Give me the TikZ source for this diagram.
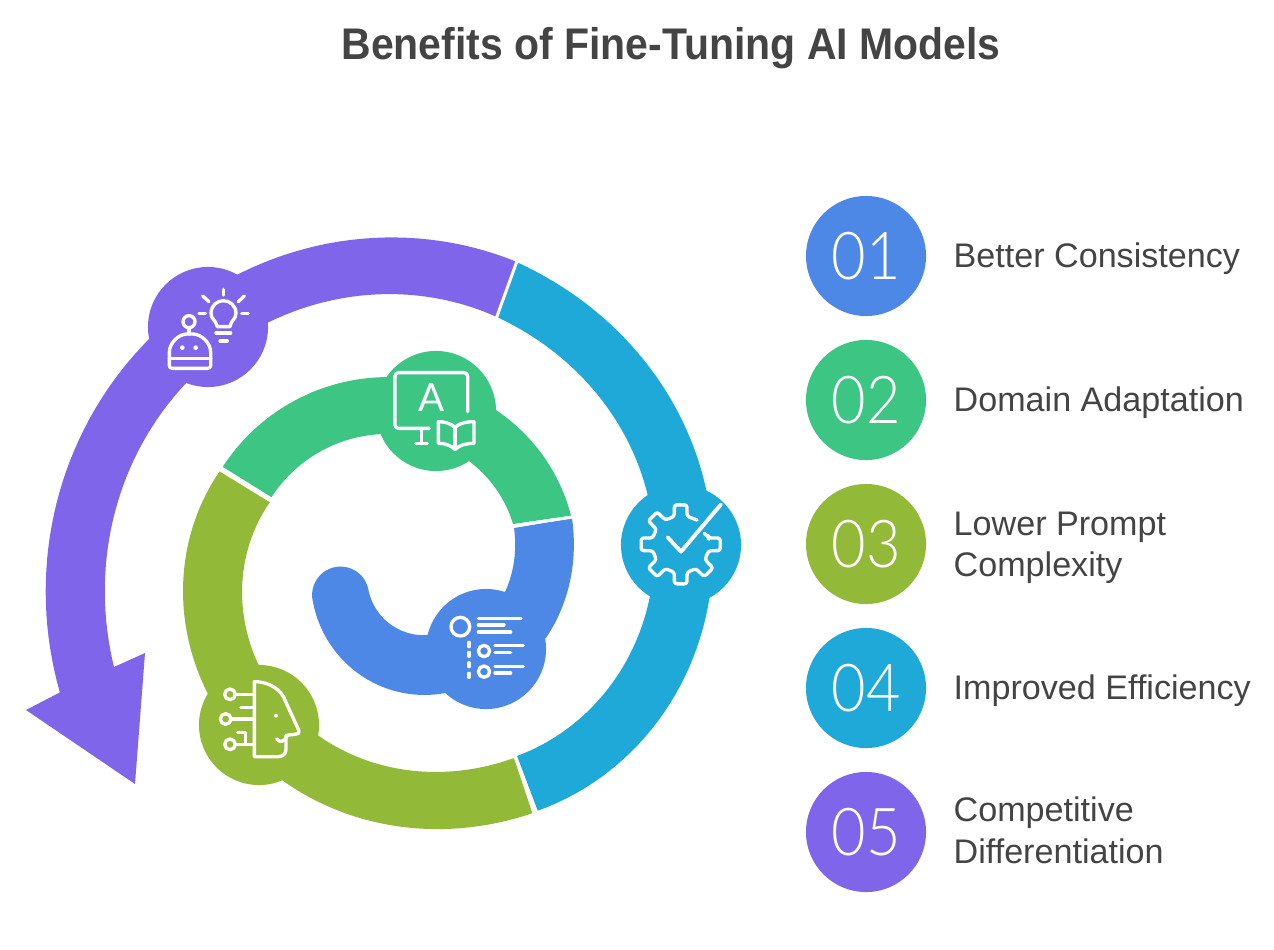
\documentclass[tikz,border=0pt]{standalone}
\usepackage{fontspec}
\setmainfont{Liberation Sans}
\newfontfamily\thinfont{Lato Light}
\newfontfamily\iconfont{Lato}
\definecolor{cblue}{HTML}{4E88E6}
\definecolor{cgreen}{HTML}{3CC583}
\definecolor{clime}{HTML}{93B939}
\definecolor{ccyan}{HTML}{1FA9D9}
\definecolor{cpurple}{HTML}{7E65EA}
\definecolor{ctext}{HTML}{444444}
\tikzset{
  hub/.style={circle,inner sep=0pt,minimum size=1.2cm},
  badge/.style={circle,inner sep=0pt,minimum size=1.2cm,text=white,font=\thinfont\fontsize{18.8}{20}\selectfont},
  label/.style={anchor=base west,inner sep=0pt,text=ctext,font=\fontsize{9.7}{11}\selectfont},
  sep/.style={draw=white,line width=0.85pt},
  ico/.style={draw=white,line width=0.95pt,line cap=round,line join=round,fill=none}
}
% #1,#2 centre; #3,#4 start and end angle (clockwise on screen); #5,#6 start and end radius; #7,#8 shape terms
\newcommand{\spiral}[8]{plot[domain=0:1,samples=70,variable=\t] ({(#1)+((#5)+((#6)-(#5))*\t+(#7)*\t*(1-\t)+(#8)*\t*\t*(1-\t))*cos((#3)+((#4)-(#3))*\t)},{(#2)+((#5)+((#6)-(#5))*\t+(#7)*\t*(1-\t)+(#8)*\t*\t*(1-\t))*sin((#3)+((#4)-(#3))*\t)})}
\newcommand{\spiralto}[8]{-- plot[domain=0:1,samples=70,variable=\t] ({(#1)+((#5)+((#6)-(#5))*\t+(#7)*\t*(1-\t)+(#8)*\t*\t*(1-\t))*cos((#3)+((#4)-(#3))*\t)},{(#2)+((#5)+((#6)-(#5))*\t+(#7)*\t*(1-\t)+(#8)*\t*\t*(1-\t))*sin((#3)+((#4)-(#3))*\t)})}
\begin{document}
\begin{tikzpicture}[x=0.01cm,y=-0.01cm]
\useasboundingbox (0,0) rectangle (1274,949);
\node[anchor=base,inner sep=0pt,text=ctext,font=\bfseries\fontsize{12.6}{15}\selectfont] (title) at (671,60) {\scalebox{0.924}[1]{Benefits of Fine-Tuning AI Models}};

% purple band with arrow head
\fill[cpurple] \spiral{395}{590}{-69.6}{-197.1}{350}{350.5}{25}{-40}
  -- (26,710) -- (135,784) -- (145,653) -- (114,667)
  \spiralto{395}{590}{-195.3}{-69.5}{291.4}{291.4}{-18.8}{61.6} -- cycle;
% cyan band
\fill[ccyan] \spiral{420}{544}{-71}{66.3}{298}{291.5}{-62.9}{108}
  \spiralto{420}{544}{65.4}{-71.3}{233.1}{239.7}{36.3}{-92.5} -- cycle;
% green band
\fill[cgreen] \spiral{395}{590}{-144.8}{-22.8}{211.7}{191}{42}{0}
  \spiralto{395}{590}{-29.2}{-143.4}{135.2}{154.4}{42}{0} -- cycle;
% blue band
\fill[cblue] \spiral{395}{590}{-27.5}{10}{134.2}{102.4}{0}{0}
  \spiralto{425}{580}{88}{172}{55}{57.5}{0}{0}
  \spiralto{340.5}{595}{165.7}{345.7}{28.4}{28.4}{0}{0}
  \spiralto{427}{583}{170.5}{80.7}{115.6}{111.5}{0}{0}
  \spiralto{395}{590}{17.6}{-22.1}{158.4}{191}{0}{0} -- cycle;
% lime band
\fill[clime] \spiral{425}{590}{210}{64.2}{237.2}{247.8}{37.7}{-105}
  \spiralto{425}{590}{62.1}{209.6}{190.1}{178.2}{-57.1}{89.7} -- cycle;

% hubs
\node[hub,fill=cpurple] (hubE) at (208,327) {};
\node[hub,fill=ccyan] (hubD) at (681,545) {};
\node[hub,fill=cgreen] (hubB) at (436,411) {};
\node[hub,fill=cblue] (hubA) at (486,649) {};
\node[hub,fill=clime] (hubC) at (259,725) {};

% separators
\draw[sep] (496,319) -- (517,261);
\draw[sep] (515,756) -- (536,813);
\draw[sep] (220,467) -- (273,500);
\draw[sep] (512,526) -- (573,517);

% bulb + robot icon
\begin{scope}[shift={(140,260)},scale=1/3]
\draw[ico] (232,200) .. controls (228,180) and (213,178) .. (213,160) .. controls (213,138) and (230,122) .. (250,122) .. controls (270,122) and (288,138) .. (288,160) .. controls (288,178) and (273,180) .. (270,200) -- cycle;
\draw[ico] (228,219) -- (272,219);
\draw[ico] (240,243) -- (262,243);
\draw[ico] (250,88) -- (250,105);
\draw[ico] (188,108) -- (207,125);
\draw[ico] (313,108) -- (295,125);
\draw[ico] (177,160) -- (197,160);
\draw[ico] (305,160) -- (325,160);
\draw[ico] (147,185) circle (18);
\draw[ico] (147,203) -- (147,222);
\draw[ico,rounded corners=0.8pt] (88,325) -- (88,285) .. controls (88,250) and (115,222) .. (150,222) .. controls (185,222) and (212,250) .. (212,285) -- (212,325) -- cycle;
\draw[ico] (88,295) -- (212,295);
\fill[white] (127,263) circle (7);
\fill[white] (167,263) circle (7);
\end{scope}

% monitor + book icon
\begin{scope}[shift={(370,350)},scale=1/3]
\draw[ico,rounded corners=1pt] (178,235) -- (75,235) -- (75,68) -- (293,68) -- (293,185);
\draw[ico] (155,235) -- (155,280);
\draw[ico] (137,280) -- (172,280);
\node[inner sep=0pt,text=white,font=\iconfont\fontsize{11}{11}\selectfont] (iconA) at (184,143) {A};
\draw[ico] (255,232) .. controls (240,218) and (220,215) .. (205,215) -- (205,280) .. controls (222,280) and (240,284) .. (255,298) .. controls (270,284) and (292,280) .. (312,280) -- (312,215) .. controls (292,215) and (270,218) .. (255,232);
\draw[ico] (255,232) -- (255,298);
\end{scope}

% gear + check icon
\begin{scope}[shift={(620,485)},scale=1/3]
\begin{scope}[shift={(182,178)}]
\draw[ico,rounded corners=0.7pt] (-25:78) -- (-15:86)
  \foreach \c in {0,45,...,270} { -- (\c-13:86) -- (\c-9:120) -- (\c+9:120) -- (\c+13:86) } -- (304:88);
\end{scope}
\draw[ico,line width=1.1pt] (143,157) -- (183,200) -- (303,58);
\end{scope}

% list icon
\begin{scope}[shift={(420,590)},scale=1/3]
\draw[ico] (121,110) circle (28);
\draw[ico] (175,85) -- (303,85);
\draw[ico] (175,105) -- (252,105);
\draw[ico] (175,126) -- (272,126);
\draw[ico] (147,157) -- (147,170);
\draw[ico] (147,187) -- (147,199);
\draw[ico] (147,218) -- (147,230);
\draw[ico] (147,250) -- (147,262);
\draw[ico] (192,183) circle (17);
\draw[ico] (192,245) circle (17);
\draw[ico] (225,167) -- (310,167);
\draw[ico] (225,187) -- (272,187);
\draw[ico] (225,229) -- (310,229);
\draw[ico] (225,249) -- (272,249);
\end{scope}

% head icon
\begin{scope}[shift={(195,655)},scale=1/3]
\draw[ico] (178,80) .. controls (225,80) and (260,105) .. (272,140) -- (311,225) .. controls (314,235) and (308,238) .. (300,238) -- (273,241) -- (273,283) .. controls (273,297) and (262,305) .. (250,305) -- (178,305) -- cycle;
\fill[white] (243,182) circle (6);
\draw[ico] (245,252) .. controls (255,265) and (268,260) .. (276,243);
\draw[ico] (105,118) circle (16);
\draw[ico] (121,118) -- (178,118);
\draw[ico] (138,157) -- (178,157);
\draw[ico] (92,192) circle (16);
\draw[ico] (108,192) -- (178,192);
\draw[ico] (105,268) circle (16);
\draw[ico] (121,268) -- (178,268);
\draw[ico] (128,233) -- (152,233) -- (152,268);
\end{scope}

% legend
\node[badge,fill=cblue] (n1) at (866,256) {\scalebox{0.9}[1]{01}};
\node[badge,fill=cgreen] (n2) at (866,400) {\scalebox{0.9}[1]{02}};
\node[badge,fill=clime] (n3) at (866,544) {\scalebox{0.9}[1]{03}};
\node[badge,fill=ccyan] (n4) at (866,688) {\scalebox{0.9}[1]{04}};
\node[badge,fill=cpurple] (n5) at (866,832) {\scalebox{0.9}[1]{05}};

\node[label] (l1) at (953,268) {Better Consistency};
\node[label] (l2) at (953,411) {Domain Adaptation};
\node[label] (l3a) at (953,535) {Lower Prompt};
\node[label] (l3b) at (953,576) {Complexity};
\node[label] (l4) at (953,699) {Improved Efficiency};
\node[label] (l5a) at (953,821) {Competitive};
\node[label] (l5b) at (953,863) {Differentiation};
\end{tikzpicture}
\end{document}
